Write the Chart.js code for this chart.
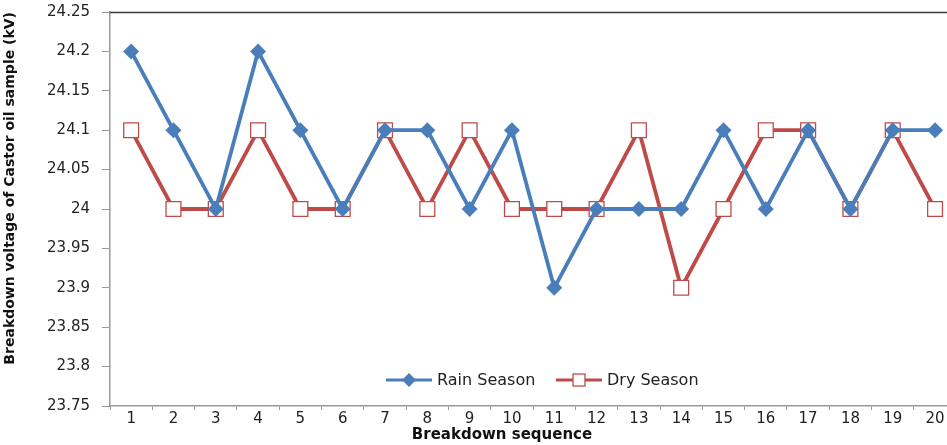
<!DOCTYPE html>
<html>
<head>
<meta charset="utf-8">
<script src="https://cdn.jsdelivr.net/npm/chart.js@4.4.1/dist/chart.umd.min.js"></script>
<style>
  html, body { margin: 0; padding: 0; background: #fff; overflow: hidden; }
  #wrap { position: relative; width: 968px; height: 445px; }
</style>
</head>
<body>
<div id="wrap"><canvas id="chart"></canvas></div>
<script>
const sequence = ['1','2','3','4','5','6','7','8','9','10','11','12','13','14','15','16','17','18','19','20'];
const rainSeason = [24.2, 24.1, 24.0, 24.2, 24.1, 24.0, 24.1, 24.1, 24.0, 24.1, 23.9, 24.0, 24.0, 24.0, 24.1, 24.0, 24.1, 24.0, 24.1, 24.1];
const drySeason = [24.1, 24.0, 24.0, 24.1, 24.0, 24.0, 24.1, 24.0, 24.1, 24.0, 24.0, 24.0, 24.1, 23.9, 24.0, 24.1, 24.1, 24.0, 24.1, 24.0];
const yTicks = ['23.75','23.8','23.85','23.9','23.95','24','24.05','24.1','24.15','24.2','24.25'];

const BLUE = '#4a7ebb';
const RED = '#be4b48';
const FONT = '"DejaVu Sans", Verdana, sans-serif';

// top border of the plot area, x title and legend inside the plot
const frame = {
    id: 'frame',
    afterDraw(chart) {
        const { ctx, chartArea: a } = chart;
        ctx.save();
        ctx.strokeStyle = '#3a3a3a';
        ctx.lineWidth = 1.5;
        ctx.beginPath();
        ctx.moveTo(a.left, a.top + 0.5);
        ctx.lineTo(a.right, a.top + 0.5);
        ctx.stroke();

        // x axis title (original is centred on the visible part)
        ctx.font = 'bold 15px ' + FONT;
        ctx.fillStyle = '#111';
        ctx.textAlign = 'center';
        ctx.textBaseline = 'middle';
        ctx.fillText('Breakdown sequence', 502, 435);

        // legend
        const y = 380;
        ctx.font = '16px ' + FONT;
        ctx.textAlign = 'left';
        ctx.lineWidth = 3;
        // rain
        ctx.strokeStyle = BLUE;
        ctx.beginPath(); ctx.moveTo(386, y); ctx.lineTo(432, y); ctx.stroke();
        ctx.fillStyle = BLUE;
        ctx.beginPath();
        ctx.moveTo(409, y - 7); ctx.lineTo(416, y); ctx.lineTo(409, y + 7); ctx.lineTo(402, y);
        ctx.closePath(); ctx.fill();
        ctx.fillStyle = '#222';
        ctx.fillText('Rain Season', 437, y + 1);
        // dry
        ctx.strokeStyle = RED;
        ctx.beginPath(); ctx.moveTo(556, y); ctx.lineTo(602, y); ctx.stroke();
        ctx.fillStyle = '#fff';
        ctx.lineWidth = 1.3;
        ctx.fillRect(573, y - 6, 12, 12);
        ctx.strokeRect(573, y - 6, 12, 12);
        ctx.fillStyle = '#222';
        ctx.fillText('Dry Season', 607, y + 1);
        ctx.restore();
    }
};

new Chart(document.getElementById('chart'), {
    type: 'line',
    data: {
        labels: sequence,
        datasets: [{
            label: 'Rain Season',
            data: rainSeason,
            borderColor: BLUE,
            backgroundColor: BLUE,
            borderWidth: 3.8,
            pointStyle: 'rectRot',
            pointRadius: 8,
            pointBorderWidth: 0,
            tension: 0
        }, {
            label: 'Dry Season',
            data: drySeason,
            borderColor: RED,
            backgroundColor: '#fff',
            borderWidth: 3.8,
            pointStyle: 'rect',
            pointRadius: 10.5,
            pointBorderWidth: 1.3,
            tension: 0
        }]
    },
    options: {
        responsive: true,
        maintainAspectRatio: false,
        animation: false,
        layout: { padding: { top: 12, right: 0, left: 0, bottom: 0 } },
        plugins: { legend: { display: false }, tooltip: { enabled: false } },
        scales: {
            x: {
                offset: true,
                grid: { offset: true, drawOnChartArea: false, tickLength: 4, color: '#999', tickColor: '#999' },
                border: { color: '#999', width: 1.5 },
                ticks: { color: '#222', font: { family: FONT, size: 15 }, padding: 0, maxRotation: 0 },
                afterFit(s) { s.height = 39; }
            },
            y: {
                min: 23.75,
                max: 24.25,
                grid: { drawOnChartArea: false, tickLength: 8, color: '#999', tickColor: '#999' },
                border: { color: '#999', width: 1.5 },
                ticks: {
                    stepSize: 0.05,
                    color: '#222',
                    font: { family: FONT, size: 15 },
                    padding: 12,
                    callback: (v, i) => yTicks[i]
                },
                title: { display: true, align: 'end', text: 'Breakdown voltage of Castor oil sample (kV)', color: '#111', font: { family: FONT, size: 14, weight: 'bold' }, padding: { top: 2, bottom: 0 } },
                afterFit(s) { s.width = 110; s.paddingTop = 0; s.paddingBottom = 0; }
            }
        }
    },
    plugins: [frame]
});
</script>
</body>
</html>
